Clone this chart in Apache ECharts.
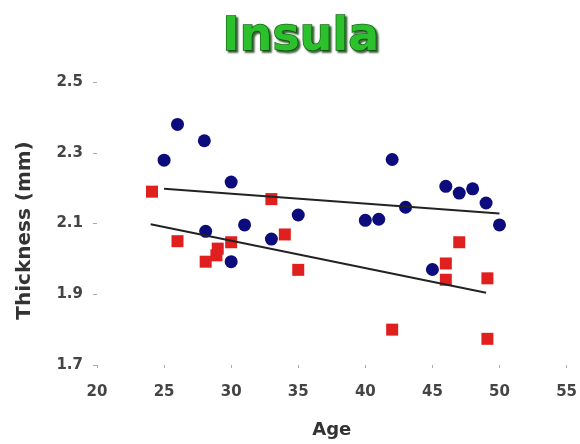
<!DOCTYPE html>
<html>
<head>
<meta charset="utf-8">
<script src="https://cdn.jsdelivr.net/npm/echarts@6/dist/echarts.min.js"></script>
<style>html,body{margin:0;padding:0;background:#fff}#c{width:580px;height:444px}</style>
</head>
<body>
<div id="c"></div>
<script>
var titleText = 'Insula';
var xName = 'Age';
var yName = 'Thickness (mm)';
var xTicks = [20, 25, 30, 35, 40, 45, 50, 55];
var yTicks = [1.7, 1.9, 2.1, 2.3, 2.5];

// blue circles: [age, thickness]
var blueAge   = [26, 28, 25, 30, 35, 31, 28.1, 33, 30, 42, 46, 47, 48, 49, 50, 43, 40, 41, 45];
var blueThick = [2.38, 2.334, 2.279, 2.217, 2.124, 2.096, 2.078, 2.056, 1.992, 2.281, 2.205, 2.186, 2.198, 2.158, 2.096, 2.146, 2.109, 2.112, 1.970];

// red squares: [age, thickness]
var redAge   = [24.1, 33, 26, 34, 30, 29, 28.9, 28.1, 35, 47, 46, 46, 49.1, 42, 49.1];
var redThick = [2.19, 2.169, 2.05, 2.069, 2.047, 2.029, 2.010, 1.992, 1.969, 2.047, 1.987, 1.941, 1.945, 1.80, 1.774];

// fitted lines (start and end points)
var blueFitAge = [25, 50];
var blueFitThick = [2.198, 2.128];
var redFitAge = [24, 49];
var redFitThick = [2.098, 1.904];

function pairs(a, b) { return a.map(function (v, i) { return [v, b[i]]; }); }

var chart = echarts.init(document.getElementById('c'), null, {renderer: 'canvas'});
var labelFont = 'DejaVu Sans';
chart.setOption({
  animation: false,
  backgroundColor: '#ffffff',
  title: {
    text: titleText,
    left: 296, top: 10, textAlign: 'center',
    textStyle: {
      fontFamily: 'DejaVu Sans', fontWeight: 'bold', fontSize: 46,
      color: '#2cc02c',
      textBorderColor: '#176e17', textBorderWidth: 1.5,
      textShadowColor: 'rgba(10,60,10,0.8)', textShadowOffsetX: 2, textShadowOffsetY: 2, textShadowBlur: 2
    }
  },
  grid: { left: 97, right: 13, top: 82, bottom: 74, containLabel: false },
  xAxis: {
    type: 'value', min: xTicks[0], max: xTicks[xTicks.length - 1], interval: 5,
    name: xName, nameLocation: 'middle', nameGap: 56,
    nameTextStyle: { fontFamily: labelFont, fontWeight: 'bold', fontSize: 18, color: '#333' },
    axisLine: { show: false },
    axisTick: { show: true, inside: false, length: 3, lineStyle: { color: '#aaa' } },
    splitLine: { show: false },
    axisLabel: { margin: 20, fontFamily: labelFont, fontWeight: 'bold', fontSize: 15, color: '#444',
      formatter: function (v) { return String(Math.round(v)); } }
  },
  yAxis: {
    type: 'value', min: yTicks[0], max: yTicks[yTicks.length - 1], interval: 0.2,
    name: yName, nameLocation: 'middle', nameGap: 62, nameRotate: 90,
    nameTextStyle: { fontFamily: labelFont, fontWeight: 'bold', fontSize: 20, color: '#333', padding: [0, 14, 0, 0] },
    axisLine: { show: false },
    axisTick: { show: true, length: 4, lineStyle: { color: '#aaa' } },
    splitLine: { show: false },
    axisLabel: { margin: 14, fontFamily: labelFont, fontWeight: 'bold', fontSize: 15, color: '#444',
      formatter: function (v) { return v.toFixed(1); } }
  },
  series: [
    { type: 'scatter', data: pairs(redAge, redThick), symbol: 'rect', symbolSize: 12,
      itemStyle: { color: '#e0201e', opacity: 1 }, z: 2 },
    { type: 'scatter', data: pairs(blueAge, blueThick), symbol: 'circle', symbolSize: 13,
      itemStyle: { color: '#0c0c7c', opacity: 1 }, z: 2 },
    { type: 'line', data: pairs(blueFitAge, blueFitThick), showSymbol: false, symbol: 'none',
      lineStyle: { color: '#222', width: 2 }, z: 3 },
    { type: 'line', data: pairs(redFitAge, redFitThick), showSymbol: false, symbol: 'none',
      lineStyle: { color: '#222', width: 2 }, z: 3 }
  ]
});
</script>
</body>
</html>
